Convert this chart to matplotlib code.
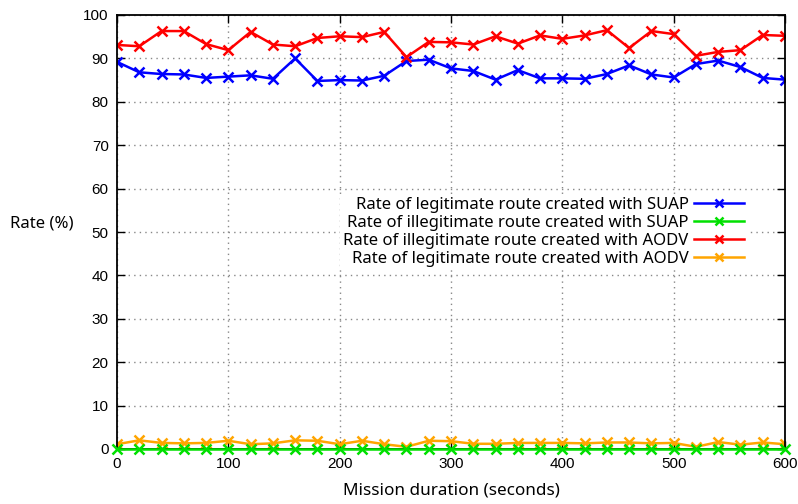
import matplotlib
matplotlib.use('Agg')
import matplotlib.pyplot as plt

# Mission duration (seconds), one sample every 20 s
duration = list(range(0, 601, 20))

# Route rates (%)
suap_legit = [89.2, 86.8, 86.4, 86.3, 85.5, 85.8, 86.1, 85.3, 90.0, 84.8,
              85.0, 84.9, 86.0, 89.4, 89.7, 87.7, 87.1, 85.1, 87.3, 85.4,
              85.4, 85.3, 86.4, 88.4, 86.3, 85.6, 88.7, 89.5, 88.0, 85.5, 85.1]
suap_illegit = [0.0] * 31
aodv_illegit = [93.1, 92.8, 96.3, 96.3, 93.3, 91.9, 96.1, 93.2, 92.8, 94.7,
                95.1, 94.9, 96.1, 90.3, 93.8, 93.7, 93.2, 95.1, 93.4, 95.3,
                94.5, 95.3, 96.5, 92.4, 96.3, 95.6, 90.6, 91.5, 91.9, 95.4, 95.2]
aodv_legit = [1.1, 2.0, 1.4, 1.3, 1.4, 1.9, 1.1, 1.3, 2.0, 1.9,
              1.1, 1.9, 1.1, 0.5, 1.9, 1.8, 1.2, 1.2, 1.4, 1.4,
              1.4, 1.3, 1.5, 1.5, 1.3, 1.4, 0.5, 1.6, 1.0, 1.5, 1.1]

labels = ['Rate of legitimate route created with SUAP',
          'Rate of illegitimate route created with SUAP',
          'Rate of illegitimate route created with AODV',
          'Rate of legitimate route created with AODV']

fig = plt.figure(figsize=(7.98, 5.04), dpi=100)
ax = fig.add_axes([117 / 798, 55 / 504, 668 / 798, 434 / 504])

style = dict(marker='x', linewidth=1.8, markersize=7, markeredgewidth=1.8)
ax.plot(duration, suap_legit, color='#0000ff', label=labels[0], **style)
ax.plot(duration, suap_illegit, color='#00e000', label=labels[1], clip_on=False, zorder=3, **style)
ax.plot(duration, aodv_illegit, color='#ff0000', label=labels[2], **style)
ax.plot(duration, aodv_legit, color='#ffa500', label=labels[3], **style)

ax.set_xlim(0, 600)
ax.set_ylim(0, 100)
ax.set_xticks(range(0, 601, 100))
ax.set_yticks(range(0, 101, 10))
tick_font = dict(family='Liberation Sans', size=11)
ax.set_xticklabels([str(v) for v in range(0, 601, 100)], fontdict=tick_font)
ax.set_yticklabels([str(v) for v in range(0, 101, 10)], fontdict=tick_font)
ax.tick_params(direction='in', length=6, width=1, top=True, right=True, pad=6)
for sp in ax.spines.values():
    sp.set_linewidth(1.3)

ax.grid(True, color='#888888', linestyle=(0, (1, 3)), linewidth=1)

ax.set_xlabel('Mission duration (seconds)', family='Noto Sans', fontsize=12.3, labelpad=8)
ax.set_ylabel('Rate (%)', family='Noto Sans', fontsize=12, rotation=0, labelpad=0)
ax.yaxis.set_label_coords(-0.112, 0.5)

leg = ax.legend(loc='upper right', bbox_to_anchor=(0.943, 0.588), markerfirst=False,
                frameon=True, fancybox=False, framealpha=1, edgecolor='none',
                prop={'family': 'Noto Sans', 'size': 12}, handlelength=3.0,
                handletextpad=0.3, labelspacing=0.12, borderpad=0.2, borderaxespad=0)
for h in leg.legend_handles:
    h.set_markersize(6)

fig.savefig('out.png', dpi=100)
